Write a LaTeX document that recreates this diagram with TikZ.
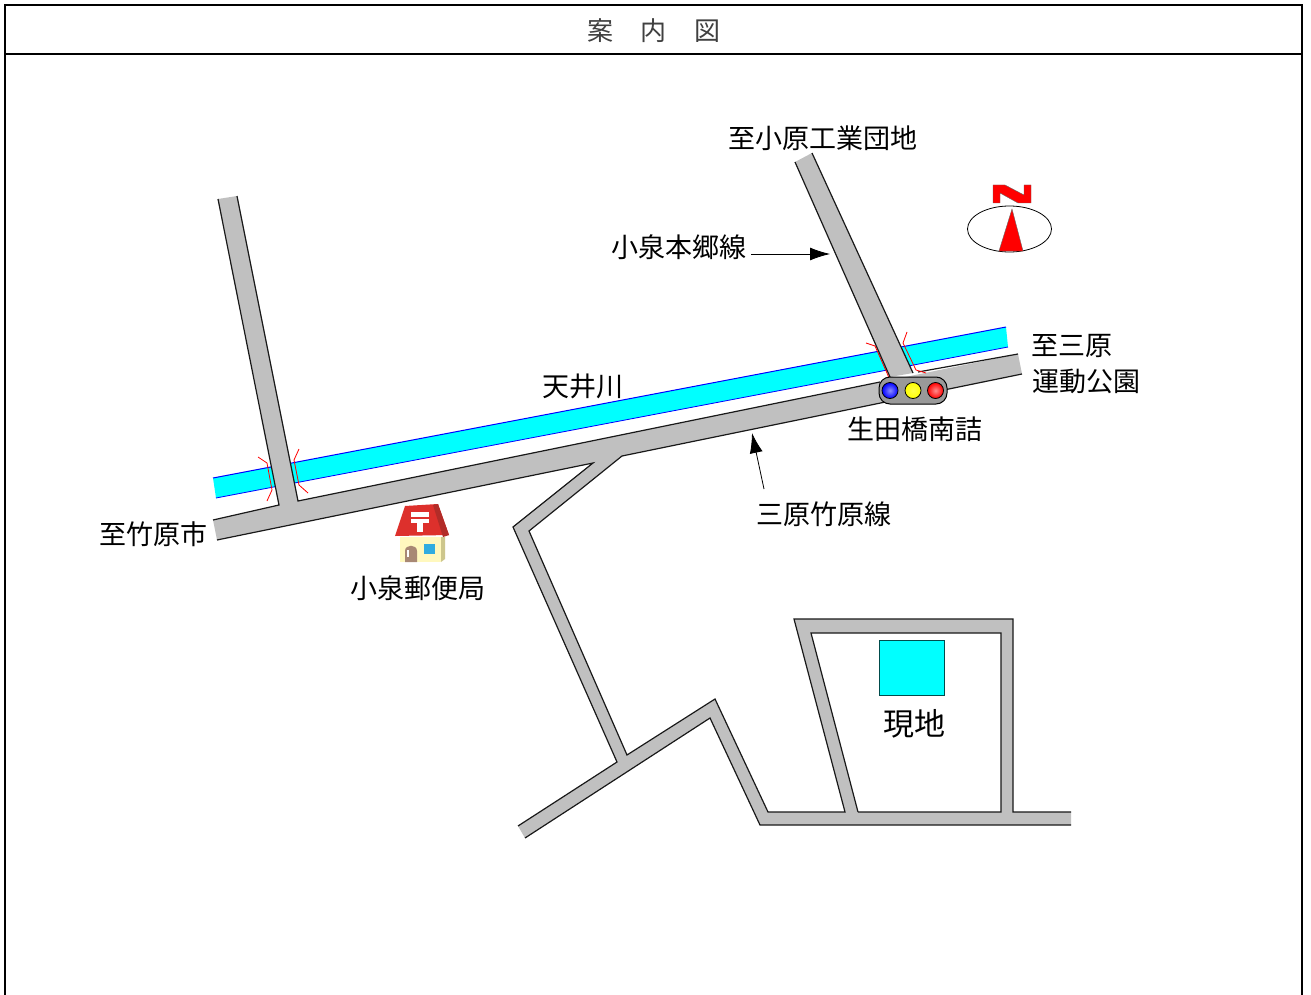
\documentclass[tikz,border=0pt]{standalone}
\usepackage{fontspec}
\setmainfont{Noto Sans CJK JP}
\usetikzlibrary{arrows.meta,shapes.geometric}
\definecolor{roadgray}{RGB}{192,192,192}
\definecolor{aqua}{RGB}{0,255,255}
\definecolor{postred}{RGB}{221,48,44}
\definecolor{postdark}{RGB}{178,44,40}
\definecolor{wallcream}{RGB}{255,248,190}
\definecolor{wallside}{RGB}{205,198,140}
\definecolor{doorbrown}{RGB}{168,136,116}
\definecolor{winblue}{RGB}{48,172,224}
\tikzset{
 lbl/.style={inner sep=0pt,font=\fontsize{27}{29}\selectfont,text=black},
 roadline/.style={draw=black!90,line width=1.2pt},
 roadfill/.style={fill=roadgray,draw=none},
 bridge/.style={draw=red,line width=0.8pt},
 pointer/.style={draw=black,line width=0.8pt,-{Latex[length=20pt,width=13pt]}},
 frameline/.style={draw=black,line width=1.8pt},
 lamp/.style={circle,minimum size=16pt,inner sep=0pt,draw=black,line width=0.8pt}
}
\begin{document}
\begin{tikzpicture}[x=1pt,y=-1pt]
\useasboundingbox (0,0) rectangle (1311,995);
\fill[white] (0,0) rectangle (1311,995);
% frame
\draw[frameline] (5,995) -- (5,5) -- (1302,5) -- (1302,995);
\draw[frameline] (5,54) -- (1302,54);
\node[inner sep=0pt,text=black!75,font=\fontsize{26}{28}\selectfont] (title) at (654,31) {案\hspace{28pt}内\hspace{28pt}図};
% river
\fill[aqua] (213,478) -- (1006,327) -- (1008,347) -- (216,498) -- cycle;
\draw[blue,line width=1pt] (213,478) -- (1006,327);
\draw[blue,line width=0.8pt] (216,498) -- (1008,347);
% roads
\path[roadfill] (218,199) -- (237,196) -- (298,501) -- (1018,354) -- (1022,374) -- (622,456) -- (529,531) -- (627,755) -- (715,699) -- (768,812) -- (1071,812) -- (1071,825) -- (760,825) -- (710,718) -- (525,838) -- (518,826) -- (617,762) -- (513,527) -- (593,463) -- (217,540) -- (213,520) -- (279,505) -- cycle;
\path[roadfill] (795,162) -- (812,153) -- (913,373) -- (890,377) -- cycle;
\path[roadfill] (845,812) -- (794,619) -- (1013,619) -- (1013,812) -- (1001,812) -- (1001,633) -- (811,633) -- (858,812) -- cycle;
% road outlines
\draw[roadline] (218,199) -- (279,505) -- (213,520);
\draw[roadline] (237,196) -- (298,501) -- (880,382);
\draw[roadline] (217,540) -- (593,463) -- (513,527) -- (617,762) -- (518,826);
\draw[roadline] (1022,374) -- (622,456) -- (529,531) -- (627,755) -- (715,699) -- (768,812) -- (845,812) -- (794,619) -- (1013,619) -- (1013,812) -- (1071,812);
\draw[roadline] (525,838) -- (710,718) -- (760,825) -- (1071,825);
\draw[roadline] (858,812) -- (811,633) -- (1001,633) -- (1001,812) -- (858,812);
\draw[roadline] (795,162) -- (890,377);
\draw[roadline] (812,153) -- (913,373);
\draw[roadline] (918,372) -- (1018,354);
% bridges
\draw[bridge] (258,457) -- (267,463) -- (272,490) -- (267,501);
\draw[bridge] (299,449) -- (294,460) -- (299,485) -- (308,493);
\draw[bridge] (866,343) -- (875,346) -- (887,373) -- (889,378);
\draw[bridge] (907,332) -- (903,343) -- (916,370) -- (926,373);
% site
\node[draw=black!70!aqua,line width=0.8pt,fill=aqua,minimum width=65pt,minimum height=55pt,inner sep=0pt] (site) at (911.5,667.5) {};
\node[inner sep=0pt,font=\fontsize{31}{33}\selectfont,text=black] (genchi) at (914,724) {現地};
% compass
\node[draw=black,line width=0.8pt,fill=white,ellipse,minimum width=84pt,minimum height=46pt,inner sep=0pt] (compass) at (1009.5,229) {};
\fill[red,draw=black!60,line width=0.4pt] (1012,209) -- (1023,251) -- (999,251) -- cycle;
\fill[red,draw=black!60,line width=0.4pt] (993,185) -- (1005,185) -- (1024,195) -- (1024,185) -- (1031,185) -- (1031,203) -- (1018,203) -- (1000,193) -- (1000,203) -- (993,203) -- cycle;
% traffic signal
\node[draw=black,line width=1pt,fill=black!40,rounded corners=11pt,minimum width=68pt,minimum height=27pt,inner sep=0pt] (signal) at (913,390.5) {};
\node[lamp,shading=radial,inner color=blue!45!white,outer color=blue] (l1) at (890,390.5) {};
\node[lamp,shading=radial,inner color=yellow!70!white,outer color=yellow] (l2) at (913,390.5) {};
\node[lamp,shading=radial,inner color=red!45!white,outer color=red] (l3) at (935.5,390.5) {};
% post office
\fill[postred] (395,536) -- (405,506) -- (438,504) -- (449,535) -- cycle;
\fill[postdark] (438,504) -- (449,535) -- (443,537) -- (433,505) -- cycle;
\fill[wallcream] (400,537) rectangle (441,562);
\fill[wallside] (441,537) -- (445,537) -- (445,559) -- (441,562) -- cycle;
\fill[doorbrown] (405,562) -- (405,551) .. controls (405,544) and (417,544) .. (417,551) -- (417,562) -- cycle;
\fill[white] (406.5,550) rectangle (409,557);
\fill[winblue] (424,544) rectangle (435,554);
\fill[white] (411,512) rectangle (429,516.5);
\fill[white] (411,519) rectangle (429,523);
\fill[white] (417,523) rectangle (422.5,532);
% labels
\node[lbl] (a) at (822.5,138) {至小原工業団地};
\node[lbl] (b) at (678.5,247) {小泉本郷線};
\node[lbl,anchor=west] (c) at (1031,346) {至三原};
\node[lbl,anchor=west] (d) at (1032,381) {運動公園};
\node[lbl] (e) at (583,386) {天井川};
\node[lbl] (f) at (915,429) {生田橋南詰};
\node[lbl] (g) at (823.5,514) {三原竹原線};
\node[lbl] (h) at (153,534) {至竹原市};
\node[lbl] (i) at (418,588) {小泉郵便局};
% pointers
\coordinate (p1) at (751,254); \coordinate (p2) at (830,254);
\coordinate (q1) at (764,489); \coordinate (q2) at (752,433);
\draw[pointer] (p1) -- (p2);
\draw[pointer] (q1) -- (q2);
\end{tikzpicture}
\end{document}
